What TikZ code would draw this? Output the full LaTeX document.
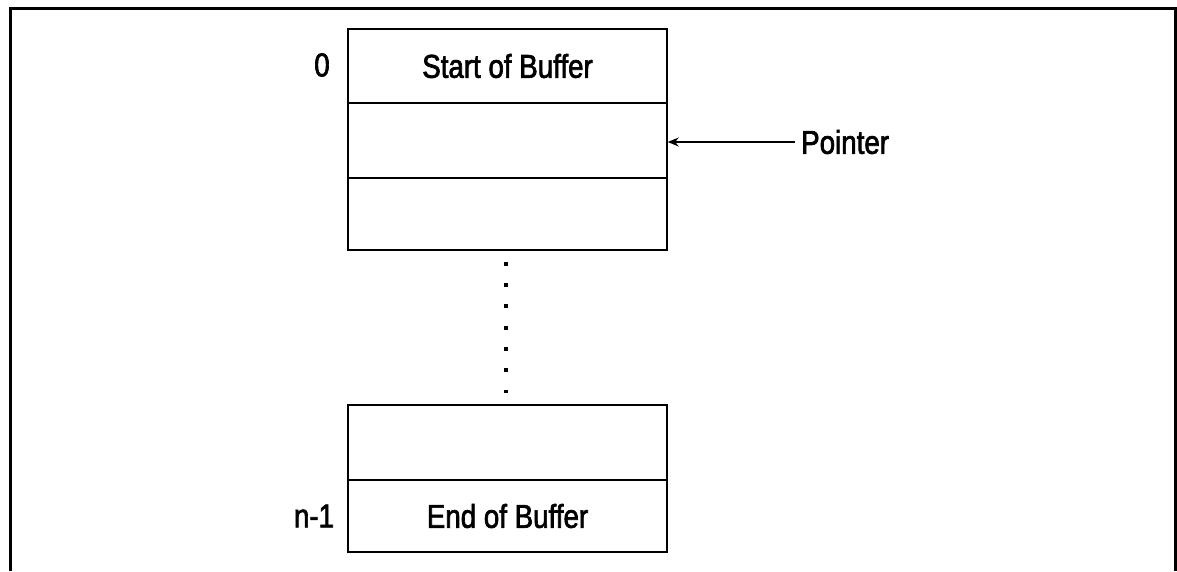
\documentclass[tikz,border=0pt]{standalone}
\usepackage{fontspec}
\setmainfont{Liberation Sans}[FakeStretch=0.84, FakeBold=2]
\usetikzlibrary{arrows.meta}
\begin{document}
\begin{tikzpicture}[x=1pt,y=-1pt,
  cell/.style={draw, line width=1.5pt, minimum width=319pt, inner sep=0pt, font=\fontsize{33}{36}\selectfont},
  lbl/.style={inner sep=0pt, font=\fontsize{33}{36}\selectfont},
  frame/.style={line width=3pt},
  dotline/.style={line width=4pt, dash pattern=on 4pt off 17.3pt},
  ptr/.style={line width=1.5pt, -{Stealth[length=11pt,width=9pt]}}]
\useasboundingbox (0,0) rectangle (1177,571);
\draw[frame] (10,571) -- (10,8.5) -- (1175.5,8.5) -- (1175.5,571);
\node[cell, minimum height=74pt] (c1) at (507.5,66) {Start of Buffer};
\node[cell, minimum height=75pt] (c2) at (507.5,140.5) {};
\node[cell, minimum height=72pt] (c3) at (507.5,214) {};
\node[cell, minimum height=75pt] (c4) at (507.5,442.5) {};
\node[cell, minimum height=72pt] (c5) at (507.5,516) {End of Buffer};
\node[lbl] (zero) at (322,65) {0};
\node[lbl] (nm1) at (314,516) {n-1};
\node[lbl, anchor=west] (ptrlbl) at (801,142) {Pointer};
\draw[ptr] (ptrlbl.west) ++(-6pt,0) -- (c2.east |- ptrlbl.west);
\draw[dotline] ([xshift=-2pt,yshift=-11pt]c3.south) -- ([xshift=-2pt,yshift=11pt]c4.north);
\end{tikzpicture}
\end{document}
